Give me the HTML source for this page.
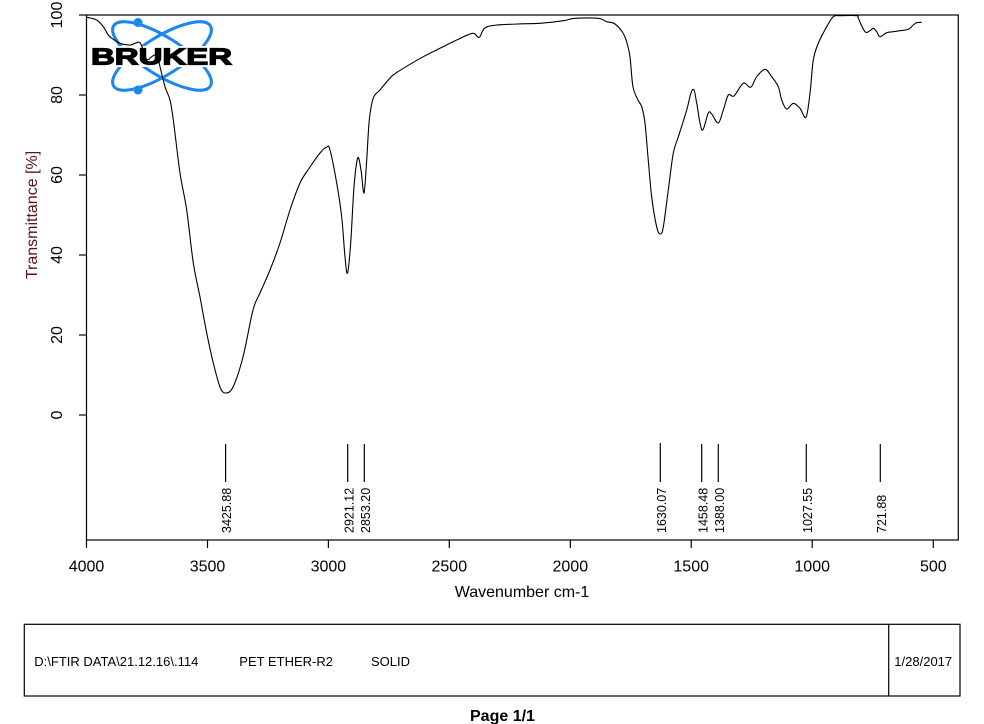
<!DOCTYPE html>
<html>
<head>
<meta charset="utf-8">
<style>
html,body{margin:0;padding:0;background:#fff;}
svg{display:block;}
text{font-family:"Liberation Sans",Arial,sans-serif;}
</style>
</head>
<body>
<svg width="984" height="724" viewBox="0 0 984 724" xmlns="http://www.w3.org/2000/svg">
<rect x="0" y="0" width="984" height="724" fill="#fff"/>

<!-- Bruker logo -->
<g fill="none" stroke="#1a86f0" stroke-width="3">
  <ellipse cx="162" cy="56" rx="57" ry="19" transform="rotate(32 162 56)"/>
  <ellipse cx="162" cy="56" rx="57" ry="19" transform="rotate(-32 162 56)"/>
</g>
<circle cx="138" cy="22.5" r="4.5" fill="#1a86f0"/>
<circle cx="138" cy="90" r="4.5" fill="#1a86f0"/>
<rect x="90" y="46" width="144" height="21" fill="#fff"/>
<text x="91" y="64.5" font-size="23" font-weight="bold" fill="#000" stroke="#000" stroke-width="1.2" textLength="141" lengthAdjust="spacingAndGlyphs">BRUKER</text>

<!-- plot box -->
<rect x="86.5" y="15" width="871.8" height="525" fill="none" stroke="#000" stroke-width="1.2"/>

<!-- y ticks -->
<g stroke="#000" stroke-width="1.2">
  <line x1="79" y1="15" x2="86.5" y2="15"/>
  <line x1="79" y1="95" x2="86.5" y2="95"/>
  <line x1="79" y1="175" x2="86.5" y2="175"/>
  <line x1="79" y1="255" x2="86.5" y2="255"/>
  <line x1="79" y1="335" x2="86.5" y2="335"/>
  <line x1="79" y1="415" x2="86.5" y2="415"/>
</g>
<g font-size="16" fill="#000" text-anchor="middle">
  <text transform="translate(62,15) rotate(-90)">100</text>
  <text transform="translate(62,95) rotate(-90)">80</text>
  <text transform="translate(62,175) rotate(-90)">60</text>
  <text transform="translate(62,255) rotate(-90)">40</text>
  <text transform="translate(62,335) rotate(-90)">20</text>
  <text transform="translate(62,415) rotate(-90)">0</text>
</g>
<text transform="translate(37,215) rotate(-90)" font-size="16" fill="#5a1414" text-anchor="middle">Transmittance [%]</text>

<!-- x ticks -->
<g stroke="#000" stroke-width="1.2">
  <line x1="86.5" y1="540" x2="86.5" y2="548"/>
  <line x1="207.5" y1="540" x2="207.5" y2="548"/>
  <line x1="328.4" y1="540" x2="328.4" y2="548"/>
  <line x1="449.3" y1="540" x2="449.3" y2="548"/>
  <line x1="570.3" y1="540" x2="570.3" y2="548"/>
  <line x1="691.2" y1="540" x2="691.2" y2="548"/>
  <line x1="812.2" y1="540" x2="812.2" y2="548"/>
  <line x1="933.3" y1="540" x2="933.3" y2="548"/>
</g>
<g font-size="16" fill="#000" text-anchor="middle">
  <text x="86.5" y="571.5">4000</text>
  <text x="207.5" y="571.5">3500</text>
  <text x="328.4" y="571.5">3000</text>
  <text x="449.3" y="571.5">2500</text>
  <text x="570.3" y="571.5">2000</text>
  <text x="691.2" y="571.5">1500</text>
  <text x="812.2" y="571.5">1000</text>
  <text x="933.3" y="571.5">500</text>
</g>
<text x="522" y="597" font-size="16" fill="#000" text-anchor="middle">Wavenumber cm-1</text>

<!-- peak markers -->
<g stroke="#000" stroke-width="1.2">
  <line x1="225.6" y1="444" x2="225.6" y2="482"/>
  <line x1="347.7" y1="444" x2="347.7" y2="482"/>
  <line x1="364.3" y1="444" x2="364.3" y2="482"/>
  <line x1="660.3" y1="443" x2="660.3" y2="482"/>
  <line x1="701.7" y1="444" x2="701.7" y2="482"/>
  <line x1="718.3" y1="444" x2="718.3" y2="482"/>
  <line x1="806.3" y1="444" x2="806.3" y2="482"/>
  <line x1="880.3" y1="444" x2="880.3" y2="482"/>
</g>
<g font-size="12.5" fill="#000">
  <text transform="translate(231.2,533) rotate(-90)">3425.88</text>
  <text transform="translate(353.3,533) rotate(-90)">2921.12</text>
  <text transform="translate(369.9,533) rotate(-90)">2853.20</text>
  <text transform="translate(665.9,533) rotate(-90)">1630.07</text>
  <text transform="translate(707.3,533) rotate(-90)">1458.48</text>
  <text transform="translate(723.9,533) rotate(-90)">1388.00</text>
  <text transform="translate(811.9,533) rotate(-90)">1027.55</text>
  <text transform="translate(885.9,533) rotate(-90)">721.88</text>
</g>

<!-- spectrum -->
<polyline id="spec" fill="none" stroke="#000" stroke-width="1.1" stroke-linejoin="round" points="
86.7,17.3 96.7,20 103.3,26.7 108.3,35 113.3,39.3 120,43.3 130,45 135,43.3 139.3,42.3 141.7,46 146.7,59.3 151.7,56.7 155,55 158.3,58.3 160,66.7 165,86.7 170,100 173.3,120 180,173 186.7,210 193.3,263 200,297 206.7,333 213.3,363 220,387 225.5,393 233,387 243,357 253,310 260,293 270,270 280,243 290,210 300,183 310,167 320,153 326.7,147 330,150 336.7,183 341.7,217 345,257 347.5,273 350.7,243 354,187 357.7,158 361,170 364,193 366.7,160 369.3,120 373.3,98 380,90 390,78 393.3,75 401.7,69.3 423.3,56.7 440,48.3 456.7,40 472.7,33.3 479.3,37.3 487.3,26.7 516.7,24 540,23.3 563.3,20.7 575,18.3 598.3,18.3 606.7,21.7 615,24 623,33 627,43 630,57 633,87 638,100 641.7,106.7 645,123 648,157 651.7,197 656.7,227 660.3,234 663.3,227 668.3,190 673.3,153 678.3,137 686.7,110 691,93 694,90 696.7,103 702,130 708.3,113 711.7,114 718.3,123 723.3,110 728.3,95 734,96 743.3,83.3 750.7,87.3 756.7,76.7 765,69.3 771.7,76.7 778.3,86.7 781.7,100 786.7,109 793.3,103.3 800,108.3 806,117.3 810,93.3 813.3,60 818.3,43.3 826.7,26.7 833.3,16.7 840,15.7 857,15.7 858.3,18.3 865,31.7 870,30.7 873.3,28.3 876.7,31.7 880,36.7 886.7,32.7 893.3,31.7 900,30.7 908.3,29.3 913.3,25 916.7,22.7 921.7,22.3"/>

<!-- footer -->
<rect x="24.3" y="624.3" width="935.7" height="71.7" fill="none" stroke="#000" stroke-width="1.2"/>
<line x1="888.7" y1="624.3" x2="888.7" y2="696" stroke="#000" stroke-width="1.2"/>
<g font-size="13" fill="#000">
  <text x="34.3" y="666">D:\FTIR DATA\21.12.16\.114</text>
  <text x="239.3" y="666">PET ETHER-R2</text>
  <text x="371" y="666">SOLID</text>
  <text x="894.3" y="666">1/28/2017</text>
</g>
<text x="470" y="721" font-size="16" font-weight="bold" fill="#000">Page 1/1</text>
</svg>
<script>
(function(){
  try{
    var pl=document.getElementById('spec');
    var raw=pl.getAttribute('points').trim().split(/\s+/).map(function(s){var a=s.split(',');return [parseFloat(a[0]),parseFloat(a[1])];});
    var d='M'+raw[0][0]+','+raw[0][1];
    var t=0.5;
    for(var i=0;i<raw.length-1;i++){
      var p0=raw[i>0?i-1:i],p1=raw[i],p2=raw[i+1],p3=raw[i+2<raw.length?i+2:i+1];
      var c1x=p1[0]+(p2[0]-p0[0])/6*t*2*0.5, c1y=p1[1]+(p2[1]-p0[1])/6;
      var c2x=p2[0]-(p3[0]-p1[0])/6*t*2*0.5, c2y=p2[1]-(p3[1]-p1[1])/6;
      c1x=p1[0]+(p2[0]-p0[0])/6; c2x=p2[0]-(p3[0]-p1[0])/6;
      d+=' C'+c1x.toFixed(2)+','+c1y.toFixed(2)+' '+c2x.toFixed(2)+','+c2y.toFixed(2)+' '+p2[0]+','+p2[1];
    }
    var ns='http://www.w3.org/2000/svg';
    var path=document.createElementNS(ns,'path');
    path.setAttribute('d',d);
    path.setAttribute('fill','none');
    path.setAttribute('stroke','#000');
    path.setAttribute('stroke-width','1.1');
    pl.parentNode.insertBefore(path,pl);
    pl.parentNode.removeChild(pl);
  }catch(e){}
})();
</script>
</body>
</html>
